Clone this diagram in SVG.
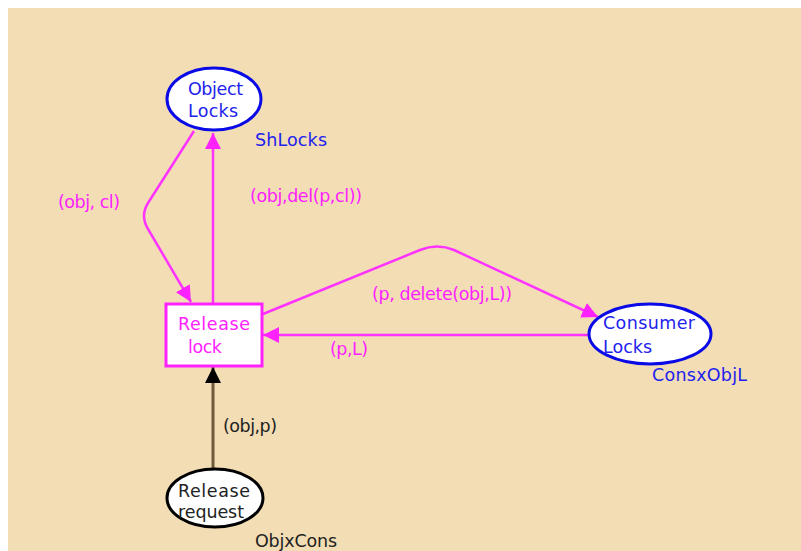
<svg xmlns="http://www.w3.org/2000/svg" width="801" height="551" viewBox="0 0 801 551">
<style>
text{font-family:"DejaVu Sans","Liberation Sans",sans-serif;font-size:17.5px}
.m{fill:#ff22ff}
.b{fill:#2222ee}
.k{fill:#222}
.arc{fill:none;stroke:#ff33ff;stroke-width:2.5}
</style>
<defs>
<marker id="am" markerUnits="userSpaceOnUse" markerWidth="20" markerHeight="20" refX="16" refY="8" orient="auto"><path d="M0,0 L16,8 L0,16 Z" fill="#ff22ff"/></marker>
<marker id="ak" markerUnits="userSpaceOnUse" markerWidth="20" markerHeight="20" refX="16" refY="8" orient="auto"><path d="M0,0 L16,8 L0,16 Z" fill="#000"/></marker>
</defs>
<rect x="0" y="0" width="801" height="551" fill="#fff"/>
<rect x="8" y="8" width="793" height="543" fill="#f3ddb4"/>
<g id="connectors">
<path class="arc" d="M194,131 L148,203 Q140,216 148,229 L191,302" marker-end="url(#am)"/>
<path class="arc" d="M213,304 L213,133" marker-end="url(#am)"/>
<path class="arc" d="M263,314 L420,250 Q437,243 454,250 L598,317" marker-end="url(#am)"/>
<path class="arc" d="M589,335 L263,335" marker-end="url(#am)"/>
<path d="M213,469 L213,367" fill="none" stroke="#6e5b3e" stroke-width="3" marker-end="url(#ak)"/>
<text class="m" x="58" y="208" textLength="62">(obj, cl)</text>
<text class="m" x="250" y="202" textLength="112">(obj,del(p,cl))</text>
<text class="m" x="372" y="300" textLength="140">(p, delete(obj,L))</text>
<text class="m" x="330" y="355" textLength="38">(p,L)</text>
<text class="k" x="223" y="432" textLength="54">(obj,p)</text>
</g>
<g id="object-locks">
<ellipse cx="214" cy="99" rx="47" ry="31" fill="#fff" stroke="#0a0ae6" stroke-width="3"/>
<text class="b" x="188" y="95" textLength="55">Object</text>
<text class="b" x="188" y="117" textLength="50">Locks</text>
<text class="b" x="255" y="146" textLength="72">ShLocks</text>
</g>
<g id="release-lock">
<rect x="166" y="304" width="96" height="62" fill="#fff" stroke="#ff22ff" stroke-width="3"/>
<text class="m" x="178" y="330" textLength="72">Release</text>
<text class="m" x="188" y="353" textLength="34">lock</text>
</g>
<g id="consumer-locks">
<ellipse cx="650" cy="334" rx="61" ry="30" fill="#fff" stroke="#0a0ae6" stroke-width="3"/>
<text class="b" x="603" y="329" textLength="92">Consumer</text>
<text class="b" x="603" y="353" textLength="49">Locks</text>
<text class="b" x="652" y="381" textLength="95">ConsxObjL</text>
</g>
<g id="release-request">
<ellipse cx="215" cy="498" rx="48" ry="29" fill="#fff" stroke="#000" stroke-width="3"/>
<text class="k" x="178" y="497" textLength="72">Release</text>
<text class="k" x="178" y="518" textLength="66">request</text>
<text class="k" x="255" y="547" textLength="82">ObjxCons</text>
</g>
</svg>
